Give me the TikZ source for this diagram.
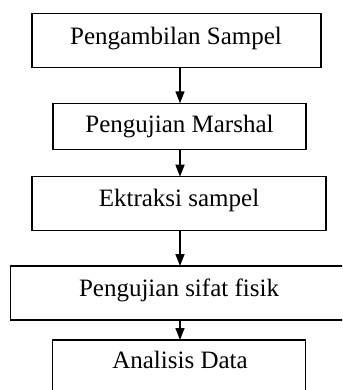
\documentclass[tikz,border=0pt]{standalone}
\usepackage{fontspec}
\setmainfont{Liberation Serif}
\usetikzlibrary{arrows.meta}
\begin{document}
\begin{tikzpicture}[x=1pt,y=-1pt,
  box/.style={draw, line width=1.5pt, inner sep=0pt, outer sep=0pt},
  lbl/.style={anchor=base, inner sep=0pt, font=\fontsize{25}{30}\selectfont},
  arr/.style={line width=1.5pt, -{Triangle[width=9pt,length=12pt]}}]
\useasboundingbox (0,0) rectangle (342,390);
\clip (0,0) rectangle (342,390);
\coordinate (ax) at (180,0);
\node[box, minimum width=289pt, minimum height=54pt] (b1) at (176.5,40.3) {};
\node[box, minimum width=253.3pt, minimum height=46pt] (b2) at (179.4,126.3) {};
\node[box, minimum width=294pt, minimum height=54pt] (b3) at (179,203.7) {};
\node[box, minimum width=339.3pt, minimum height=54pt] (b4) at (180.35,293) {};
\node[box, minimum width=253pt, minimum height=60pt] (b5) at (179.2,370) {};
\node[lbl] (t1) at (176,44.3) {Pengambilan Sampel};
\node[lbl] (t2) at (179.5,133) {Pengujian Marshal};
\node[lbl] (t3) at (179,206) {Ektraksi sampel};
\node[lbl] (t4) at (179,296.7) {Pengujian sifat fisik};
\node[lbl] (t5) at (180,368) {Analisis Data};
\draw[arr] (b1.south -| ax) -- (b2.north -| ax);
\draw[arr] (b2.south -| ax) -- (b3.north -| ax);
\draw[arr] (b3.south -| ax) -- (b4.north -| ax);
\draw[arr] (b4.south -| ax) -- (b5.north -| ax);
\end{tikzpicture}
\end{document}
